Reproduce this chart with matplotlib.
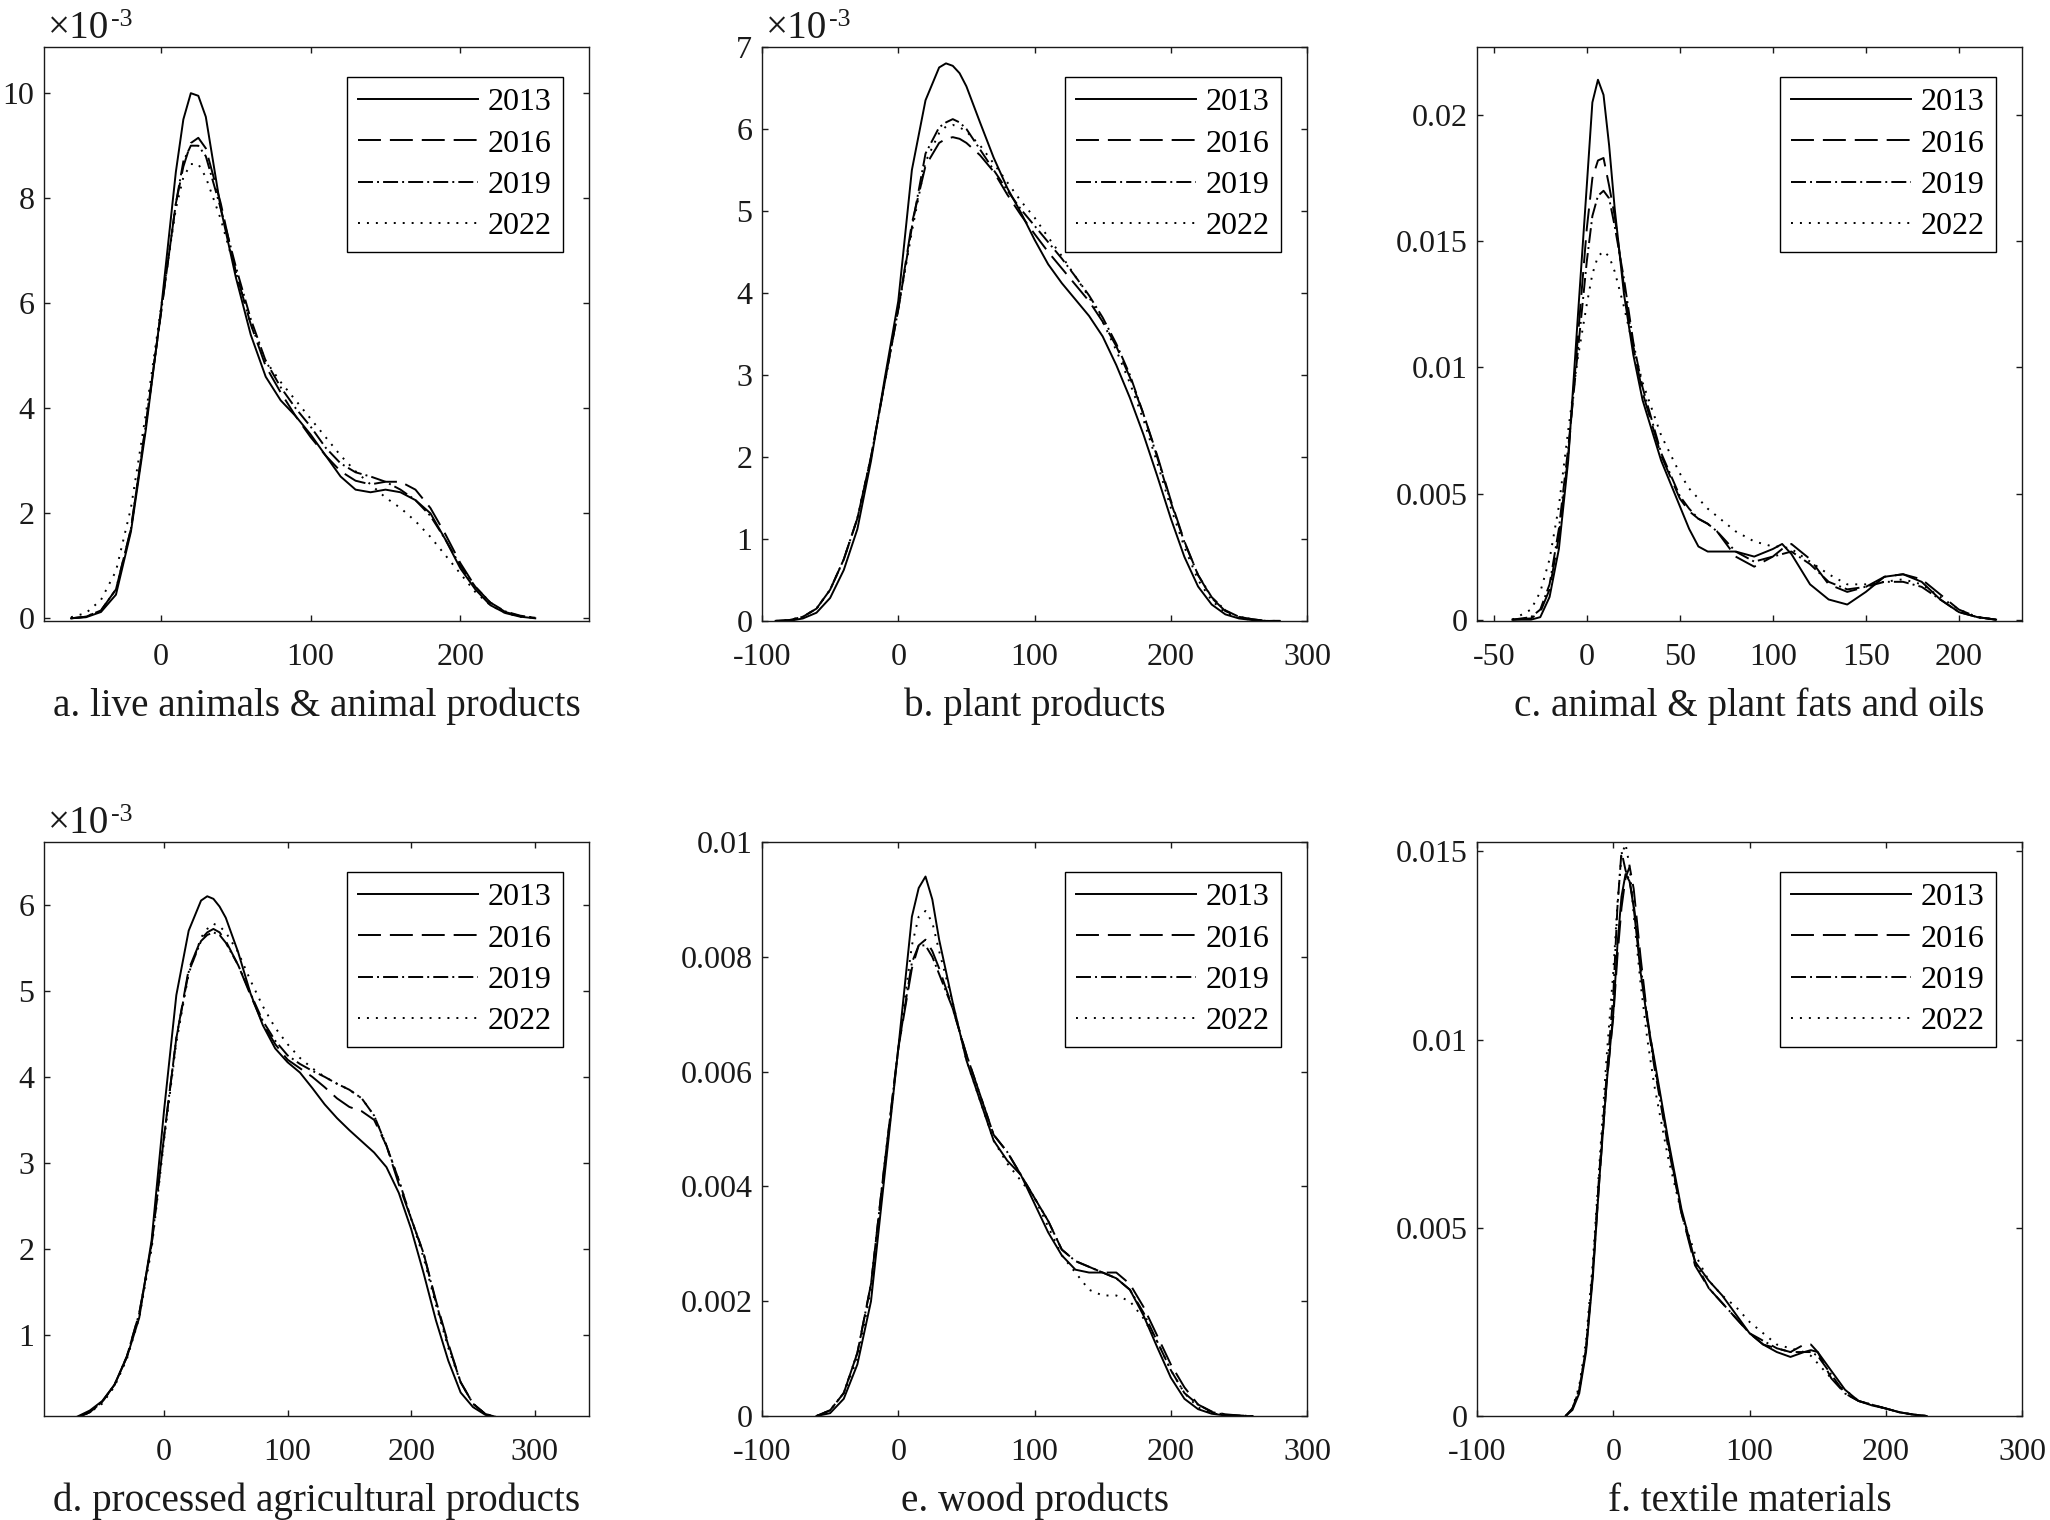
import matplotlib
matplotlib.use("Agg")
import matplotlib.pyplot as plt
from matplotlib.ticker import FuncFormatter

plt.rcParams['font.family'] = ['Liberation Serif', 'DejaVu Serif']
plt.rcParams['axes.unicode_minus'] = False

years = ["2013", "2016", "2019", "2022"]

# a. live animals (x10^-3)
a_x = [-60, -50, -40, -30, -20, -10, 0, 10, 15, 20, 25, 30, 40, 50, 60, 70, 80, 90, 100,
       110, 120, 130, 140, 150, 160, 170, 180, 190, 200, 210, 220, 230, 240, 250]
a_2013 = [0.0, 0.02, 0.12, 0.45, 1.65, 3.6, 5.85, 8.5, 9.5, 10.0, 9.95, 9.55, 7.8, 6.5, 5.4, 4.6, 4.15, 3.85, 3.5,
          3.1, 2.7, 2.45, 2.4, 2.45, 2.4, 2.25, 2.0, 1.5, 0.95, 0.55, 0.25, 0.1, 0.03, 0.0]
a_2016 = [0.0, 0.03, 0.15, 0.55, 1.7, 3.7, 5.8, 7.9, 8.6, 9.05, 9.15, 8.95, 7.9, 6.6, 5.6, 4.8, 4.3, 3.85, 3.45,
          3.1, 2.8, 2.62, 2.55, 2.6, 2.6, 2.45, 2.1, 1.6, 1.05, 0.6, 0.3, 0.12, 0.04, 0.01]
a_2019 = [0.0, 0.03, 0.15, 0.55, 1.7, 3.7, 5.8, 7.9, 8.7, 9.0, 9.0, 8.8, 7.8, 6.7, 5.7, 4.9, 4.4, 4.0, 3.65,
          3.25, 2.95, 2.78, 2.7, 2.6, 2.45, 2.25, 1.95, 1.5, 1.0, 0.6, 0.3, 0.13, 0.05, 0.01]
a_2022 = [0.02, 0.1, 0.35, 0.9, 2.1, 3.9, 5.9, 7.8, 8.4, 8.65, 8.65, 8.4, 7.6, 6.6, 5.6, 4.9, 4.5, 4.15, 3.8,
          3.45, 3.1, 2.8, 2.55, 2.3, 2.1, 1.85, 1.55, 1.2, 0.85, 0.5, 0.25, 0.1, 0.03, 0.01]

# b. plant products (x10^-3)
b_x = [-90, -80, -70, -60, -50, -40, -30, -20, -10, 0, 10, 20, 30, 35, 40, 45, 50, 60, 70, 80, 90, 100,
       110, 120, 130, 140, 150, 160, 170, 180, 190, 200, 210, 220, 230, 240, 250, 260, 270, 280]
b_2013 = [0.0, 0.0, 0.03, 0.1, 0.28, 0.62, 1.12, 1.95, 2.95, 3.9, 5.5, 6.35, 6.75, 6.8, 6.77, 6.68, 6.52, 6.08,
          5.65, 5.28, 4.98, 4.65, 4.35, 4.12, 3.92, 3.72, 3.47, 3.12, 2.72, 2.27, 1.77, 1.25, 0.78, 0.42,
          0.2, 0.08, 0.03, 0.01, 0.0, 0.0]
b_2016 = [0.0, 0.01, 0.05, 0.15, 0.38, 0.75, 1.25, 2.0, 2.9, 3.8, 4.85, 5.55, 5.83, 5.88, 5.9, 5.88, 5.83, 5.68,
          5.48, 5.2, 4.95, 4.72, 4.5, 4.3, 4.1, 3.9, 3.65, 3.35, 2.97, 2.52, 2.02, 1.47, 0.97, 0.56,
          0.28, 0.12, 0.05, 0.02, 0.0, 0.0]
b_2019 = [0.0, 0.01, 0.05, 0.15, 0.38, 0.75, 1.25, 2.0, 2.9, 3.8, 4.8, 5.7, 6.02, 6.08, 6.12, 6.08, 6.0, 5.75,
          5.5, 5.25, 5.02, 4.82, 4.62, 4.42, 4.2, 3.97, 3.7, 3.38, 3.0, 2.52, 2.0, 1.45, 0.96, 0.56,
          0.29, 0.13, 0.05, 0.02, 0.0, 0.0]
b_2022 = [0.0, 0.01, 0.05, 0.15, 0.38, 0.75, 1.25, 2.0, 2.9, 3.8, 4.75, 5.6, 5.95, 6.03, 6.05, 6.02, 5.97, 5.8,
          5.58, 5.35, 5.12, 4.92, 4.68, 4.45, 4.2, 3.95, 3.65, 3.3, 2.9, 2.45, 1.93, 1.38, 0.9, 0.5,
          0.25, 0.1, 0.04, 0.01, 0.0, 0.0]

# c. animal & plant fats and oils
c_x = [-40, -30, -25, -20, -15, -10, -5, 0, 3, 6, 9, 12, 15, 20, 25, 30, 40, 50, 55, 60, 65, 70,
       80, 90, 100, 105, 110, 120, 130, 140, 150, 160, 170, 180, 190, 200, 210, 220]
c_2013 = [0.0, 0.0, 0.0001, 0.0009, 0.0028, 0.0063, 0.0118, 0.0172, 0.0205, 0.0214, 0.0208, 0.0188, 0.0163,
          0.0129, 0.0105, 0.0087, 0.0063, 0.0045, 0.0036, 0.0029, 0.0027, 0.0027, 0.0027, 0.0025, 0.0028,
          0.003, 0.0026, 0.0014, 0.0008, 0.0006, 0.0011, 0.0017, 0.0018, 0.0015, 0.0008, 0.0003, 0.0001, 0.0]
c_2016 = [0.0, 0.00005, 0.0003, 0.0012, 0.0033, 0.0065, 0.011, 0.0155, 0.0175, 0.0182, 0.0183, 0.0172, 0.016,
          0.0132, 0.0108, 0.009, 0.0065, 0.0048, 0.0043, 0.004, 0.0038, 0.0035, 0.0025, 0.0021, 0.0025,
          0.0028, 0.003, 0.0024, 0.0014, 0.0011, 0.0013, 0.0017, 0.0018, 0.0016, 0.001, 0.0004, 0.0001, 0.0]
c_2019 = [0.0, 0.0001, 0.0004, 0.0014, 0.0036, 0.0068, 0.0105, 0.0142, 0.016, 0.0168, 0.017, 0.0167, 0.0156,
          0.0135, 0.011, 0.0092, 0.0066, 0.0049, 0.0044, 0.004, 0.0038, 0.0035, 0.0027, 0.0023, 0.0025,
          0.0026, 0.0027, 0.0022, 0.0015, 0.0012, 0.0013, 0.0015, 0.0015, 0.0013, 0.0008, 0.0003, 0.0001, 0.0]
c_2022 = [0.0, 0.0004, 0.0011, 0.0024, 0.0045, 0.0075, 0.0103, 0.0125, 0.0137, 0.0144, 0.0146, 0.0144, 0.0138,
          0.0124, 0.0108, 0.0094, 0.0073, 0.0058, 0.0052, 0.0048, 0.0044, 0.0041, 0.0035, 0.0031, 0.0029,
          0.0029, 0.0028, 0.0023, 0.0018, 0.0014, 0.0014, 0.0015, 0.0016, 0.0014, 0.0009, 0.0004, 0.0001, 0.0]

# d. processed agricultural products (x10^-3)
d_x = [-70, -60, -50, -40, -30, -20, -10, 0, 10, 20, 30, 35, 40, 45, 50, 60, 70, 80, 90, 100,
       110, 120, 130, 140, 150, 160, 170, 180, 190, 200, 210, 220, 230, 240, 250, 260, 270]
d_2013 = [0.05, 0.12, 0.23, 0.42, 0.74, 1.2, 2.1, 3.6, 4.95, 5.7, 6.05, 6.1, 6.07, 5.98, 5.85, 5.45, 4.97,
          4.6, 4.33, 4.17, 4.05, 3.87, 3.68, 3.52, 3.38, 3.25, 3.12, 2.95, 2.65, 2.23, 1.72, 1.17, 0.7,
          0.33, 0.16, 0.07, 0.04]
d_2016 = [0.04, 0.1, 0.22, 0.42, 0.75, 1.25, 2.05, 3.3, 4.45, 5.25, 5.6, 5.68, 5.72, 5.68, 5.58, 5.3, 4.95,
          4.62, 4.38, 4.2, 4.1, 4.0, 3.88, 3.75, 3.65, 3.6, 3.5, 3.2, 2.75, 2.35, 1.95, 1.4, 0.9,
          0.45, 0.2, 0.08, 0.04]
d_2019 = [0.04, 0.1, 0.22, 0.42, 0.75, 1.25, 2.05, 3.3, 4.45, 5.22, 5.58, 5.65, 5.68, 5.65, 5.56, 5.3, 4.97,
          4.65, 4.42, 4.25, 4.15, 4.07, 4.0, 3.92, 3.85, 3.75, 3.55, 3.2, 2.8, 2.35, 1.95, 1.38, 0.88,
          0.45, 0.2, 0.08, 0.04]
d_2022 = [0.04, 0.1, 0.2, 0.4, 0.72, 1.2, 2.0, 3.25, 4.4, 5.2, 5.62, 5.72, 5.78, 5.75, 5.68, 5.45, 5.12,
          4.82, 4.57, 4.38, 4.22, 4.1, 4.0, 3.92, 3.85, 3.75, 3.55, 3.2, 2.8, 2.35, 1.9, 1.35, 0.85,
          0.45, 0.2, 0.08, 0.04]

# e. wood products
e_x = [-60, -50, -40, -30, -20, -10, 0, 10, 15, 20, 25, 30, 40, 50, 60, 70, 80, 90, 100,
       110, 120, 130, 140, 150, 160, 170, 180, 190, 200, 210, 220, 230, 240, 250, 260]
e_2013 = [0.0, 0.00005, 0.0003, 0.0009, 0.002, 0.0042, 0.0064, 0.0087, 0.0092, 0.0094, 0.009, 0.0083,
          0.0072, 0.0062, 0.0055, 0.0048, 0.00445, 0.0042, 0.0037, 0.0032, 0.0028, 0.00255, 0.0025, 0.0025,
          0.0024, 0.0022, 0.00175, 0.0012, 0.00067, 0.0003, 0.00012, 0.00004, 0.00001, 0.0, 0.0]
e_2016 = [0.0, 0.0001, 0.0004, 0.0011, 0.0023, 0.0044, 0.0064, 0.0078, 0.0082, 0.0083, 0.0081, 0.0078,
          0.0071, 0.0063, 0.0056, 0.0049, 0.0046, 0.0042, 0.0038, 0.0034, 0.0029, 0.0027, 0.0026, 0.0025,
          0.0025, 0.0023, 0.0019, 0.0014, 0.0009, 0.0005, 0.0002, 0.00008, 0.00003, 0.00001, 0.0]
e_2019 = [0.0, 0.0001, 0.0004, 0.0011, 0.0023, 0.0044, 0.0064, 0.0079, 0.0082, 0.0082, 0.008, 0.0077,
          0.0071, 0.0063, 0.0056, 0.0049, 0.0046, 0.0042, 0.0038, 0.0034, 0.0029, 0.0027, 0.0026, 0.0025,
          0.0024, 0.0022, 0.0018, 0.0013, 0.0008, 0.0004, 0.0002, 0.00007, 0.00002, 0.00001, 0.0]
e_2022 = [0.0, 0.0001, 0.0004, 0.001, 0.0022, 0.0043, 0.0064, 0.0082, 0.0087, 0.0088, 0.0086, 0.0081,
          0.0072, 0.0062, 0.0055, 0.0048, 0.0044, 0.0041, 0.0038, 0.0033, 0.0028, 0.0025, 0.0022, 0.0021,
          0.0021, 0.002, 0.0017, 0.0013, 0.0008, 0.0004, 0.00015, 0.00005, 0.00001, 0.0, 0.0]

# f. textile materials
f_x = [-35, -30, -25, -20, -15, -10, -5, 0, 3, 6, 9, 12, 15, 20, 25, 30, 40, 50, 60, 70, 80, 90, 100,
       110, 120, 130, 140, 145, 150, 160, 170, 180, 190, 200, 210, 220, 230]
f_2013 = [0.0, 0.00016, 0.0006, 0.0017, 0.0037, 0.0064, 0.0088, 0.0107, 0.0125, 0.0138, 0.0144, 0.0142,
          0.0135, 0.0118, 0.0105, 0.0095, 0.0074, 0.0055, 0.0041, 0.0036, 0.0032, 0.0027, 0.0022, 0.0019,
          0.0017, 0.00157, 0.0017, 0.00175, 0.0017, 0.0012, 0.0007, 0.0004, 0.00028, 0.0002, 0.0001,
          0.00004, 0.0]
f_2016 = [0.0, 0.0002, 0.0007, 0.0018, 0.0038, 0.0064, 0.0088, 0.0106, 0.0122, 0.0135, 0.0143, 0.0146,
          0.014, 0.0122, 0.0106, 0.0094, 0.0073, 0.0054, 0.004, 0.0034, 0.003, 0.0026, 0.0022, 0.0019,
          0.0018, 0.0017, 0.0019, 0.0019, 0.0017, 0.001, 0.0006, 0.0004, 0.0003, 0.0002, 0.0001,
          0.00004, 0.0]
f_2019 = [0.0, 0.0002, 0.0007, 0.0018, 0.0039, 0.0066, 0.009, 0.0112, 0.0135, 0.015, 0.0145, 0.0142,
          0.0136, 0.012, 0.0105, 0.0093, 0.0072, 0.0054, 0.0041, 0.0034, 0.003, 0.0026, 0.0022, 0.002,
          0.0018, 0.0017, 0.0017, 0.0017, 0.0016, 0.0011, 0.0006, 0.0004, 0.0003, 0.0002, 0.0001,
          0.00004, 0.0]
f_2022 = [0.0, 0.0002, 0.0008, 0.002, 0.0041, 0.0068, 0.0095, 0.0118, 0.0136, 0.0149, 0.0152, 0.0146,
          0.0133, 0.0115, 0.01, 0.0088, 0.0069, 0.0054, 0.0043, 0.0036, 0.0032, 0.0029, 0.0025, 0.0022,
          0.0019, 0.0018, 0.0017, 0.0016, 0.0014, 0.001, 0.0007, 0.0004, 0.0003, 0.0002, 0.0001,
          0.00004, 0.0]

titles = ["a. live animals & animal products", "b. plant products",
          "c. animal & plant fats and oils", "d. processed agricultural products",
          "e. wood products", "f. textile materials"]

# line style per year (MATLAB-like dash patterns)
styles = ['-', (0, (11.8, 4.6)), (0, (7.7, 2.1, 1, 2.1)), (0, (1, 3.6))]

FS = 23      # tick labels and legend
LFS = 28.2   # panel captions and multiplier

fig = plt.figure(figsize=(20.5, 15.2), dpi=100)

lefts = [0.0215, 0.3717, 0.7205]
bottoms = [0.5915, 0.0684]
W = 0.2659
H = 0.3776

panels = [
    (a_x, [a_2013, a_2016, a_2019, a_2022], (-78, 286), (-0.05, 10.88), [0, 100, 200], [0, 2, 4, 6, 8, 10], True),
    (b_x, [b_2013, b_2016, b_2019, b_2022], (-100, 300), (0, 7), [-100, 0, 100, 200, 300], [0, 1, 2, 3, 4, 5, 6, 7], True),
    (c_x, [c_2013, c_2016, c_2019, c_2022], (-59, 234), (-0.00005, 0.0227), [-50, 0, 50, 100, 150, 200],
     [0, 0.005, 0.01, 0.015, 0.02], False),
    (d_x, [d_2013, d_2016, d_2019, d_2022], (-97, 344), (0.056, 6.73), [0, 100, 200, 300], [1, 2, 3, 4, 5, 6], True),
    (e_x, [e_2013, e_2016, e_2019, e_2022], (-100, 300), (0, 0.01), [-100, 0, 100, 200, 300],
     [0, 0.002, 0.004, 0.006, 0.008, 0.01], False),
    (f_x, [f_2013, f_2016, f_2019, f_2022], (-100, 300), (0, 0.01525), [-100, 0, 100, 200, 300],
     [0, 0.005, 0.01, 0.015], False),
]

for i, (xs, series, xlim, ylim, xt, yt, scaled) in enumerate(panels):
    ax = fig.add_axes([lefts[i % 3], bottoms[i // 3], W, H])

    # density curves
    for ys, year, ls in zip(series, years, styles):
        ax.plot(xs, ys, color='black', linestyle=ls, linewidth=1.4, label=year)

    ax.set_xlim(xlim)
    ax.set_ylim(ylim)
    ax.set_xticks(xt)
    ax.set_yticks(yt)
    ax.xaxis.set_major_formatter(FuncFormatter(lambda v, p: '%g' % v))
    ax.yaxis.set_major_formatter(FuncFormatter(lambda v, p: '%g' % v))

    ax.tick_params(direction='in', top=True, right=True, length=4.5, width=1.0,
                   labelsize=FS, colors='#1a1a1a')
    ax.tick_params(axis='x', pad=16)
    ax.tick_params(axis='y', pad=7)
    for sp in ax.spines.values():
        sp.set_linewidth(1.0)
        sp.set_color('#1a1a1a')

    # x10^-3 multiplier above the axes
    if scaled:
        t1 = ax.annotate('\u00d710', xy=(0, 1), xycoords='axes fraction', xytext=(3, 0),
                         textcoords='offset points', ha='left', va='bottom', fontsize=LFS, color='#1a1a1a')
        ax.annotate('-3', xy=(1, 1), xycoords=t1, xytext=(1, 1), textcoords='offset points',
                    ha='left', va='top', fontsize=18.5, color='#1a1a1a')

    # panel caption
    ax.text(0.5, -0.165, titles[i], transform=ax.transAxes, ha='center', va='baseline',
            fontsize=LFS, color='#1a1a1a')

    leg = ax.legend(loc='upper right', bbox_to_anchor=(0.952, 0.948), borderaxespad=0,
                    fontsize=FS, handlelength=3.75, handletextpad=0.3, borderpad=0.35,
                    labelspacing=0.37, fancybox=False, framealpha=1)
    leg.get_frame().set_edgecolor('black')
    leg.get_frame().set_linewidth(1.0)

plt.savefig("out.png", dpi=100)
